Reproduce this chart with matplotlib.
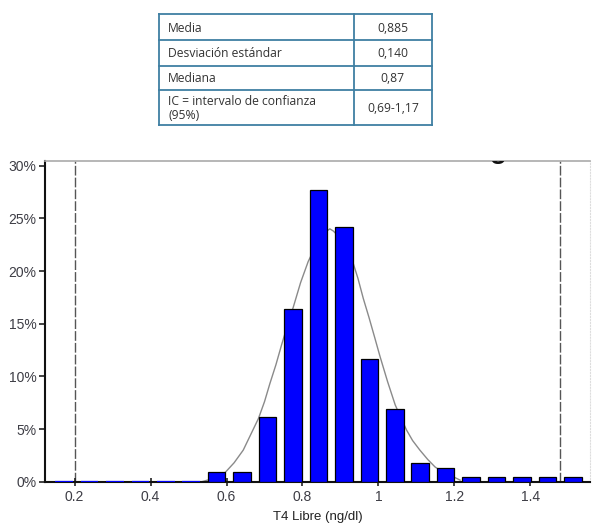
import matplotlib
matplotlib.use("Agg")
import matplotlib.pyplot as plt
from matplotlib.lines import Line2D

# ---- data ----
table_labels = ["Media", "Desviación estándar", "Mediana", "IC = intervalo de confianza\n(95%)"]
table_values = ["0,885", "0,140", "0,87", "0,69-1,17"]

bin_centers = [0.172, 0.239, 0.306, 0.373, 0.440, 0.507,
               0.574, 0.641, 0.708, 0.775, 0.842, 0.909, 0.976, 1.043,
               1.110, 1.177, 1.244, 1.311, 1.378, 1.445, 1.512]
percent = [0, 0, 0, 0, 0, 0,
           0.9, 0.9, 6.1, 16.4, 27.7, 24.2, 11.65, 6.9,
           1.75, 1.33, 0.47, 0.47, 0.47, 0.47, 0.47]

curve_x = [0.535, 0.570, 0.596, 0.620, 0.644, 0.660, 0.684, 0.700, 0.714, 0.730,
           0.745, 0.760, 0.776, 0.795, 0.815, 0.835, 0.852, 0.864, 0.872, 0.881,
           0.895, 0.912, 0.932, 0.946, 0.960, 0.975, 0.990, 1.004, 1.024, 1.044,
           1.060, 1.074, 1.090, 1.109, 1.130, 1.149, 1.170, 1.197, 1.215]
curve_y = [0.0, 0.35, 0.86, 1.8, 3.0, 4.2, 6.0, 7.6, 9.3, 11.1,
           13.0, 14.8, 16.6, 18.9, 20.9, 22.4, 23.3, 23.8, 24.0, 23.8,
           23.3, 22.3, 20.9, 19.3, 17.4, 15.6, 13.7, 11.9, 9.5, 7.3,
           6.0, 4.9, 3.9, 3.0, 2.1, 1.4, 0.9, 0.47, 0.15]

ref_lines = [0.2, 1.478]
xticks = [0.2, 0.4, 0.6, 0.8, 1.0, 1.2, 1.4]
xtick_labels = ["0.2", "0.4", "0.6", "0.8", "1", "1.2", "1.4"]
yticks = [0, 5, 10, 15, 20, 25, 30]
ytick_labels = ["0%", "5%", "10%", "15%", "20%", "25%", "30%"]

W, H = 603, 530
fig = plt.figure(figsize=(W / 100, H / 100), dpi=100)

# ---- histogram axes ----
ax = fig.add_axes([45 / W, 48.3 / H, (590 - 45) / W, (481.7 - 160.7) / H])
ax.set_xlim(0.122, 1.557)
ax.set_ylim(0, 30.47)

ax.plot(curve_x, curve_y, color="#8a8a8a", lw=1.0, zorder=2)
ax.bar(bin_centers, percent, width=0.046, color="#0000ff",
       edgecolor=[("#0000ff" if p == 0 else "black") for p in percent],
       linewidth=[(1.6 if p == 0 else 0.9) for p in percent], zorder=3)
for xv in ref_lines:
    ax.axvline(xv, color="#555555", lw=1.0, ls=(0, (7, 1.5)), zorder=1)

ax.set_xticks(xticks)
ax.set_xticklabels(xtick_labels)
ax.set_yticks(yticks)
ax.set_yticklabels(ytick_labels)
ax.tick_params(axis="x", direction="inout", length=6, width=1.2, colors="#222222",
               labelsize=10, labelcolor="#3d3d45", pad=3)
ax.tick_params(axis="y", direction="out", length=4, width=1.2, colors="#222222",
               labelsize=10, labelcolor="#3d3d45", pad=2)
for lab in ax.get_xticklabels() + ax.get_yticklabels():
    lab.set_fontfamily("Liberation Sans")

ax.spines["left"].set_color("#111111")
ax.spines["left"].set_linewidth(1.5)
ax.spines["bottom"].set_color("#111111")
ax.spines["bottom"].set_linewidth(1.5)
ax.spines["bottom"].set_zorder(2.5)
ax.spines["top"].set_color("#aaaaaa")
ax.spines["top"].set_linewidth(1.2)
ax.spines["right"].set_color("#dddddd")
ax.spines["right"].set_linestyle(":")

ax.set_xlabel("T4 Libre (ng/dl)", fontsize=9.5, family="Liberation Sans",
              color="#222222", labelpad=5)

# cropped title fragment
ax.text(1.315, 30.75, "g", fontsize=20, fontweight="bold", family="Liberation Sans",
        ha="center", va="baseline", color="#111111", clip_on=True, zorder=5)

# ---- table (overlay axes in pixel coords) ----
tax = fig.add_axes([0, 0, 1, 1])
tax.set_xlim(0, W)
tax.set_ylim(H, 0)
tax.axis("off")
tl, tr, tdiv = 159.3, 431.7, 354
rows = [14, 40, 65.7, 90, 125]
bc = "#3f7fa3"
for y in rows:
    tax.add_line(Line2D([tl, tr], [y, y], color=bc, lw=1.3))
for x in (tl, tdiv, tr):
    tax.add_line(Line2D([x, x], [rows[0], rows[-1]], color=bc, lw=1.3))
for i, (lab, val) in enumerate(zip(table_labels, table_values)):
    yc = (rows[i] + rows[i + 1]) / 2 + 1
    tax.text(tl + 9, yc, lab, fontsize=8.7, family="Open Sans", color="#333333",
             ha="left", va="center", linespacing=1.15)
    tax.text((tdiv + tr) / 2, yc, val, fontsize=8.7, family="Open Sans", color="#333333",
             ha="center", va="center")

fig.savefig("out.png", dpi=100)
